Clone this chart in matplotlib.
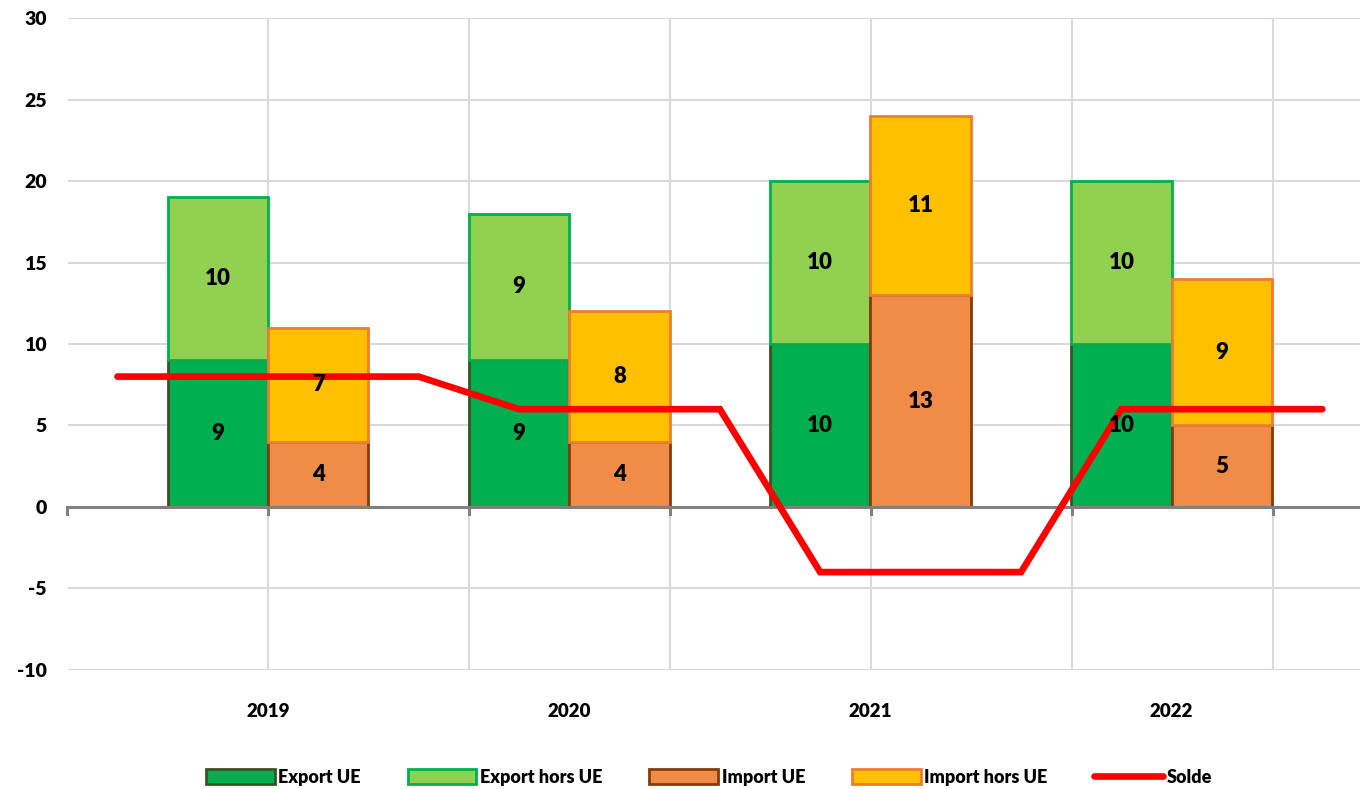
import numpy as np
import matplotlib
matplotlib.use("Agg")
import matplotlib.pyplot as plt
from matplotlib.patches import Patch
from matplotlib.lines import Line2D

plt.rcParams["font.family"] = ["Lato", "DejaVu Sans"]
plt.rcParams["font.weight"] = "heavy"

years = ["2019", "2020", "2021", "2022"]
export_ue = [9, 9, 10, 10]
export_hors_ue = [10, 9, 10, 10]
import_ue = [4, 4, 13, 5]
import_hors_ue = [7, 8, 11, 9]

# solde line, drawn over the category positions as in the source sheet
solde_x = [-0.5, 0.5, 0.833, 1.5, 1.833, 2.5, 2.833, 3.5]
solde_y = [8, 8, 6, 6, -4, -4, 6, 6]

yticks = [-10, -5, 0, 5, 10, 15, 20, 25, 30]

c_exp_ue, e_exp_ue = "#00B050", "#3B5323"
c_exp_hue, e_exp_hue = "#92D050", "#00B050"
c_imp_ue, e_imp_ue = "#F08C48", "#843C0C"
c_imp_hue, e_imp_hue = "#FFC000", "#ED7D31"

fig = plt.figure(figsize=(13.61, 7.89), dpi=100)
ax = fig.add_axes([0.05, 0.151, 0.949, 0.826])

x = np.arange(len(years))
w = 0.333
lw = 2.0

ax.bar(x - w / 2, export_ue, w, color=c_exp_ue, edgecolor=e_exp_ue, linewidth=lw, zorder=3)
ax.bar(x - w / 2, export_hors_ue, w, bottom=export_ue, color=c_exp_hue, edgecolor=e_exp_hue,
       linewidth=lw, zorder=3)
ax.bar(x + w / 2, import_ue, w, color=c_imp_ue, edgecolor=e_imp_ue, linewidth=lw, zorder=3)
ax.bar(x + w / 2, import_hors_ue, w, bottom=import_ue, color=c_imp_hue, edgecolor=e_imp_hue,
       linewidth=lw, zorder=3)

lab = dict(ha="center", va="center", fontsize=16, fontweight="heavy", color="black", zorder=6)
for i in range(len(years)):
    ax.text(x[i] - w / 2, export_ue[i] / 2, str(export_ue[i]), **lab)
    ax.text(x[i] - w / 2, export_ue[i] + export_hors_ue[i] / 2, str(export_hors_ue[i]), **lab)
    ax.text(x[i] + w / 2, import_ue[i] / 2, str(import_ue[i]), **lab)
    ax.text(x[i] + w / 2, import_ue[i] + import_hors_ue[i] / 2, str(import_hors_ue[i]), **lab)

ax.plot(solde_x, solde_y, color="#FF0000", linewidth=4.8, solid_capstyle="round",
        solid_joinstyle="miter", zorder=5)

ax.set_xlim(-0.664, 3.624)
ax.set_ylim(-10, 30)
ax.set_yticks(yticks)
ax.set_yticklabels([str(v) for v in yticks], fontsize=14, fontweight="heavy")

# grid
for v in yticks:
    ax.axhline(v, color="#D9D9D9", linewidth=1.5, zorder=1)
grid_x = np.arange(-0.667, 3.6, 0.667)
for gx in grid_x:
    ax.axvline(gx, color="#D9D9D9", linewidth=1.5, zorder=1)
ax.axhline(0, color="#808080", linewidth=2.2, zorder=4)
for gx in grid_x:
    ax.plot([gx, gx], [0, -0.45], color="#808080", linewidth=2.2, zorder=4, clip_on=False)

ax.set_xticks(x)
ax.set_xticklabels(years, fontsize=13.5, fontweight="heavy")
ax.tick_params(axis="both", length=0)
ax.tick_params(axis="x", pad=24)
ax.tick_params(axis="y", pad=15.5)
for s in ax.spines.values():
    s.set_visible(False)

handles = [
    Patch(facecolor=c_exp_ue, edgecolor=e_exp_ue, linewidth=2, label="Export UE"),
    Patch(facecolor=c_exp_hue, edgecolor=e_exp_hue, linewidth=2, label="Export hors UE"),
    Patch(facecolor=c_imp_ue, edgecolor=e_imp_ue, linewidth=2, label="Import UE"),
    Patch(facecolor=c_imp_hue, edgecolor=e_imp_hue, linewidth=2, label="Import hors UE"),
    Line2D([0], [0], color="#FF0000", linewidth=4.8, solid_capstyle="round", label="Solde"),
]
fig.legend(handles=handles, loc="center", bbox_to_anchor=(0.521, 0.015), ncol=5, frameon=False,
           prop={"size": 13, "weight": "heavy"}, handlelength=3.8, handleheight=0.9,
           handletextpad=0.2, columnspacing=2.6)

fig.savefig("out.png", dpi=100)
